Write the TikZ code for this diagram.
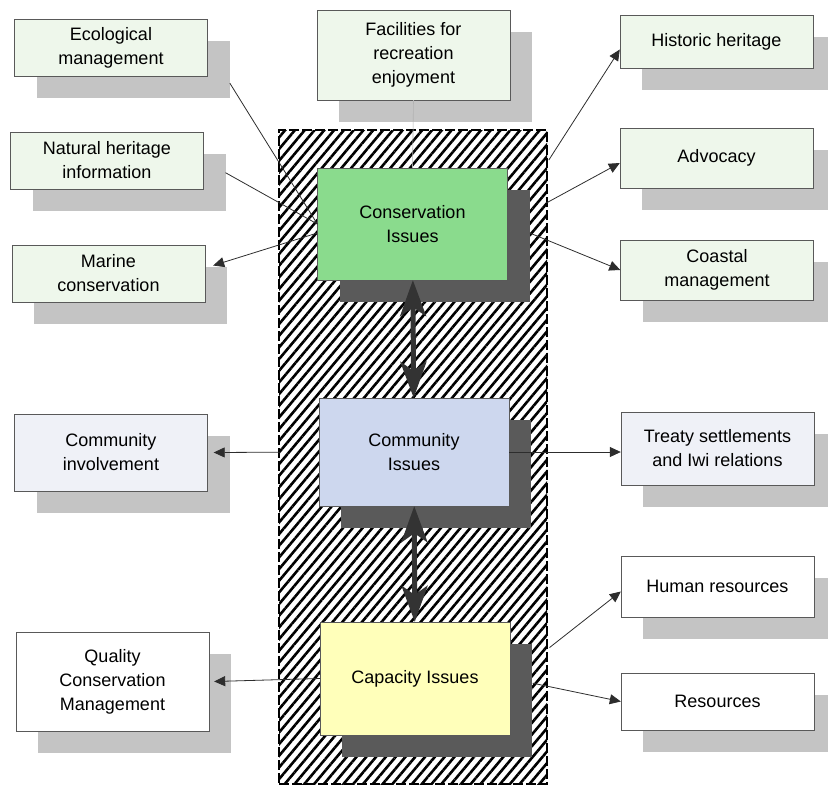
\documentclass[tikz,border=0pt]{standalone}
\usepackage{fontspec}
\setmainfont{Liberation Sans}
\usetikzlibrary{arrows.meta}
\usetikzlibrary{shadows}
\usetikzlibrary{patterns.meta}

\definecolor{paleGreen}{HTML}{EEF7EB}
\definecolor{paleBlue}{HTML}{EFF1F7}
\definecolor{consGreen}{HTML}{8ADB8D}
\definecolor{commBlue}{HTML}{CDD7EE}
\definecolor{capYellow}{HTML}{FFFFBA}
\definecolor{lightShade}{HTML}{C4C4C4}
\definecolor{darkShade}{HTML}{5A5A5A}

\begin{document}
\begin{tikzpicture}[x=1pt,y=-1pt,font=\fontsize{18}{24}\selectfont]
\useasboundingbox (0,0) rectangle (828,785);

% hatched band behind the issues
\node (zone) [draw, line width=2pt, dash pattern=on 10pt off 3pt,
              preaction={fill=white},
              pattern={Lines[angle=50,distance=7.5pt,line width=2.6pt]},
              minimum width=268pt, minimum height=654pt, inner sep=0pt] at (413,457) {};

\begin{scope}[every node/.style={draw=gray!70!black,align=center,inner sep=2pt,
                                 minimum width=190pt,
                                 drop shadow={shadow xshift=22pt,shadow yshift=-22pt,
                                              fill=darkShade,opacity=1}}]
    \node (cons) [fill=consGreen, minimum height=112pt] at (412.5,224) {Conservation\\Issues};
    \node (comm) [fill=commBlue, minimum height=108pt] at (414,452) {Community\\Issues};
    \node (cap) [fill=capYellow, minimum height=113pt] at (415,678.5) {Capacity Issues};
\end{scope}

\begin{scope}[every node/.style={draw=gray!70!black,align=center,inner sep=2pt,
                                 minimum width=193pt,
                                 drop shadow={shadow xshift=22pt,shadow yshift=-22pt,
                                              fill=lightShade,opacity=1}}]
    \node (eco) [fill=paleGreen, minimum height=57pt] at (111,47.5) {Ecological\\management};
    \node (nat) [fill=paleGreen, minimum height=57pt] at (107,160.5) {Natural heritage\\information};
    \node (mar) [fill=paleGreen, minimum height=57pt] at (108.5,273.5) {Marine\\conservation};
    \node (fac) [fill=paleGreen, minimum height=90pt] at (413.5,55) {Facilities for\\recreation\\enjoyment};
    \node (his) [fill=paleGreen, minimum height=53pt] at (716.5,41.5) {Historic heritage};
    \node (adv) [fill=paleGreen, minimum height=60pt] at (716.5,158) {Advocacy};
    \node (coa) [fill=paleGreen, minimum height=60pt] at (717,270) {Coastal\\management};
    \node (inv) [fill=paleBlue, minimum height=77pt] at (111,452.5) {Community\\involvement};
    \node (tre) [fill=paleBlue, minimum height=73pt] at (717.5,448.5) {Treaty settlements\\and Iwi relations};
    \node (qcm) [fill=white, minimum height=99pt] at (112.5,681.5) {Quality\\Conservation\\Management};
    \node (hum) [fill=white, minimum height=61pt] at (717.5,586.5) {Human resources};
    \node (res) [fill=white, minimum height=57pt] at (717.5,701.5) {Resources};
\end{scope}

\begin{scope}[>={Triangle[length=11pt,width=10pt]},
              thin_edge/.style={draw=gray!35!black,line width=0.8pt},
              faint_edge/.style={draw=gray!60,line width=0.6pt},
              thick_edge/.style={draw=black!80,line width=5pt,
                  {Stealth[length=36pt,width=26pt,inset=9pt]}-{Stealth[length=36pt,width=26pt,inset=9pt]}}]
    \path (eco.east) edge [thin_edge, shorten <=42pt] (cons.west);
    \path (nat.east) edge [thin_edge, shorten <=25pt] (cons.west);
    \path (fac.south) edge [faint_edge] (cons.north);
    \path [->] ([yshift=-9pt]cons.west) edge [thin_edge] ([xshift=8pt,yshift=8pt]mar.east);
    \path [->] (cons.east) edge [thin_edge, shorten <=76pt] ([yshift=-8pt]his.west);
    \path [->] (cons.east) edge [thin_edge, shorten <=44pt] ([yshift=-5pt]adv.west);
    \path [->] (cons.east) edge [thin_edge, shorten <=24pt] (coa.west);
    \path [->] (comm.west) edge [thin_edge, shorten <=39pt] ([xshift=6pt]inv.east);
    \path [->] (comm) edge [thin_edge] (comm -| tre.west);
    \path [->] (cap.west) edge [thin_edge] ([xshift=5pt]qcm.east);
    \path [->] (cap.east) edge [thin_edge, shorten <=50pt] ([yshift=-5pt]hum.west);
    \path [->] (cap.east) edge [thin_edge, shorten <=23pt] (res.west);
    \path (cons) edge [thick_edge] (comm);
    \path (comm) edge [thick_edge] (cap);
\end{scope}
\end{tikzpicture}
\end{document}
